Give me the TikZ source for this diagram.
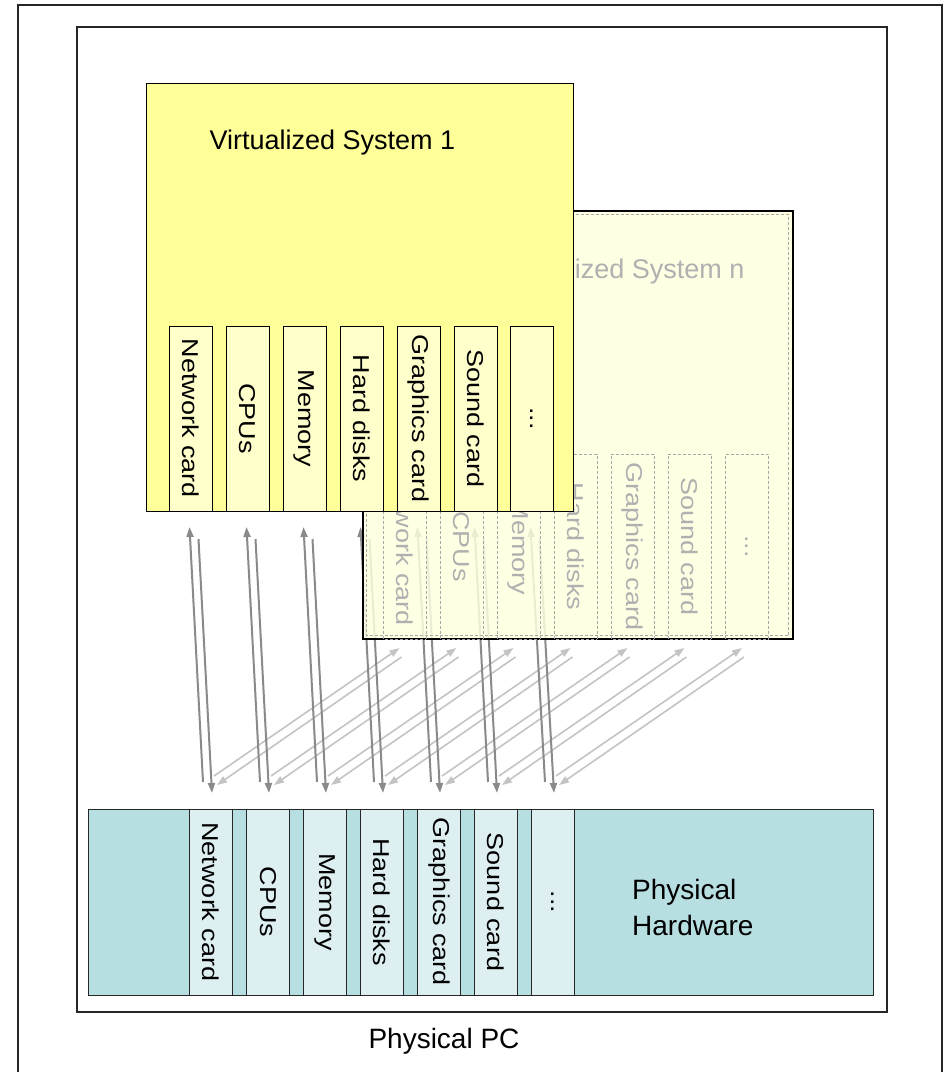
\documentclass[tikz,border=0pt]{standalone}
\usepackage{fontspec}
\setmainfont{Liberation Sans}
\usetikzlibrary{arrows.meta,calc}

\definecolor{sysyellow}{HTML}{FFFF99}
\definecolor{slotyellow}{HTML}{FFFFCC}
\definecolor{ghostfill}{HTML}{FFFFE0}
\definecolor{ghostline}{HTML}{A8A8A8}
\definecolor{ghosttext}{HTML}{B0B0B0}
\definecolor{hwteal}{HTML}{B7DEE1}
\definecolor{hwslot}{HTML}{DDEFF1}
\definecolor{linkdark}{HTML}{8A8A8A}
\definecolor{linklight}{HTML}{C4C4C4}

\pgfdeclarelayer{back}
\pgfsetlayers{back,main}

% slot captions run top to bottom and are a little narrower than tall
\newcommand\sidetext[1]{\scalebox{1}[0.85]{#1}}
\newcommand\moreslots{...}

\begin{document}
\begin{tikzpicture}[x=1pt,y=-1pt,
  lbl/.style={font=\fontsize{27}{32}\selectfont},
  slotbase/.style={rotate=-90, minimum width=185, minimum height=43,
    inner sep=0, outer sep=0, font=\fontsize{27}{32}\selectfont},
  slotA/.style={slotbase, draw=black, line width=1pt, fill=slotyellow},
  slotN/.style={slotbase, draw=ghostline, densely dashed, line width=0.8pt, text=ghosttext},
  slotH/.style={slotbase, minimum width=186, draw=black!85, line width=1pt, fill=hwslot},
  linkA/.style={draw=linkdark, line width=2pt, -{Triangle[length=10pt,width=7pt]}},
  linkN/.style={draw=linklight, line width=1.6pt, -{Triangle[length=10pt,width=7pt]}},
]
\useasboundingbox (0,0) rectangle (944,1072);

% outer frame, open at the bottom
\draw[line width=1.2pt, black!85] (18,1072) -- (18,5) -- (942,5) -- (942,1072);

% physical PC
\node[draw=black!85, line width=1.5pt, minimum width=810, minimum height=985,
      anchor=north west, inner sep=0] (pc) at (76,26) {};
\node[font=\fontsize{28}{34}\selectfont, anchor=base] (pclabel) at (444,1048) {Physical PC};

% physical hardware bar
\node[draw=black!85, line width=1pt, fill=hwteal, minimum width=785, minimum height=186,
      anchor=north west, inner sep=0] (hwbar) at (88,809) {};
\node[font=\fontsize{28}{36}\selectfont, align=left, anchor=north west, inner sep=0]
      (hwlabel) at (632,879) {Physical\\Hardware};
\foreach \t/\x [count=\i] in {Network card/211, CPUs/268, Memory/325, Hard disks/382,
                              Graphics card/439, Sound card/496, \moreslots/553}
  \node[slotH] (hw-\i) at (\x,902) {\sidetext{\t}};

% virtualized system n (faded, behind)
\node[draw=black, line width=1.5pt, fill=ghostfill, fill opacity=0.84,
      minimum width=430, minimum height=428, anchor=north west, inner sep=0] (sysn) at (362,210) {};
\draw[densely dashed, ghostline, line width=0.6pt]
      ($(sysn.north west)+(4,4)$) rectangle ($(sysn.south east)+(-5,-4)$);
\node[lbl, text=ghosttext, anchor=base east] (sysntitle) at (748,278) {Virtualized System n};
\foreach \t/\x [count=\i] in {Network card/404.5, CPUs/461.5, Memory/518.5, Hard disks/575.5,
                              Graphics card/632.5, Sound card/689.5, \moreslots/747}
  \node[slotN] (vn-\i) at (\x,546.5) {\sidetext{\t}};

% virtualized system 1
\node[draw=black, line width=1.2pt, fill=sysyellow, minimum width=427, minimum height=428,
      anchor=north west, inner sep=0] (sys1) at (146,83) {};
\node[lbl, anchor=base west] (sys1title) at (206,149) {Virtualized System 1};
\foreach \t/\x [count=\i] in {Network card/190.5, CPUs/247.5, Memory/304.5, Hard disks/361.5,
                              Graphics card/418.5, Sound card/475.5, \moreslots/531.5}
  \node[slotA] (v1-\i) at (\x,418.5) {\sidetext{\t}};

% device links, underneath everything
\begin{pgfonlayer}{back}
  \fill[white] (0,0) rectangle (944,1072);
  \foreach \i in {1,...,7} {
    \draw[linkN] ($(hw-\i.center)+(3,-126)$) -- ($(vn-\i.center)+(-5,101.5)$);
    \draw[linkN] ($(vn-\i.center)+(-3,110.5)$) -- ($(hw-\i.center)+(6,-117)$);
  }
  \foreach \i in {1,...,7} {
    \draw[linkA] ($(hw-\i.center)+(-8,-120)$) -- ($(v1-\i.center)+(-1,108.5)$);
    \draw[linkA] ($(v1-\i.center)+(8,120.5)$) -- ($(hw-\i.center)+(1,-109)$);
  }
\end{pgfonlayer}
\end{tikzpicture}
\end{document}
